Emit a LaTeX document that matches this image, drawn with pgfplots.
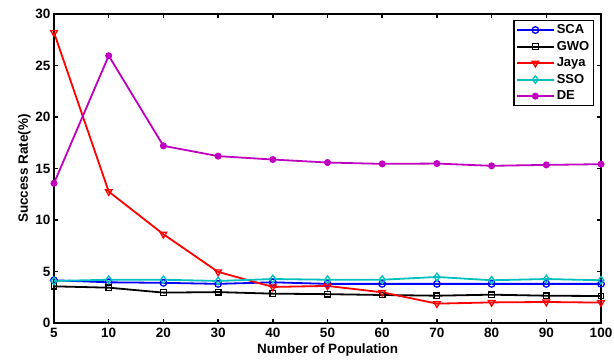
\documentclass[border=0pt]{standalone}
\usepackage{pgfplots}
\pgfplotsset{compat=1.18}
\usepackage{fontspec}
\setmainfont{Liberation Sans}
\definecolor{mcyan}{rgb}{0,0.75,0.75}
\definecolor{mmag}{rgb}{0.75,0,0.75}
\begin{document}
\begin{tikzpicture}
\begin{axis}[
  name=ax,
  scale only axis,
  width=547pt, height=309pt,
  xmin=0, xmax=10, ymin=0, ymax=30,
  xtick={0,...,10},
  xticklabels={5,10,20,30,40,50,60,70,80,90,100},
  ytick={0,5,...,30},
  tick align=inside,
  major tick length=4pt,
  axis line style={line width=1.5pt},
  tick style={line width=1.5pt, black},
  font=\fontsize{13.5pt}{15pt}\selectfont\bfseries,
  /pgf/number format/assume math mode=true,
  xticklabel style={yshift=-2pt},
  xlabel={Number of Population},
  ylabel={Success Rate(\%)},
  xlabel style={yshift=1pt},
  ylabel style={yshift=-2pt},
  legend style={at={(1,1)}, anchor=north east, xshift=-7pt, yshift=-6pt,
    draw=black, line width=1.5pt, font=\fontsize{13pt}{14pt}\selectfont\bfseries,
    row sep=2pt, inner sep=2pt},
  legend cell align=left,
  legend image code/.code={
    \draw[mark repeat=2,mark phase=2] plot coordinates {(0cm,0cm) (0.65cm,0cm) (1.3cm,0cm)};},
  every axis plot/.append style={line width=1.8pt, mark size=3pt},
]
\addplot[blue, mark=o, mark options={line width=1.3pt}, mark size=3.3pt] coordinates {
(0,4.15)(1,3.95)(2,3.9)(3,3.8)(4,3.95)(5,3.8)(6,3.8)(7,3.8)(8,3.8)(9,3.8)(10,3.8)};
\addlegendentry{SCA}
\addplot[black, mark=square, mark options={line width=1.3pt}, mark size=2.8pt] coordinates {
(0,3.56)(1,3.43)(2,2.95)(3,3.0)(4,2.85)(5,2.8)(6,2.72)(7,2.65)(8,2.75)(9,2.65)(10,2.62)};
\addlegendentry{GWO}
\addplot[red, mark=triangle, mark options={rotate=180, line width=1.3pt}, mark size=3.8pt] coordinates {
(0,28.2)(1,12.76)(2,8.62)(3,4.96)(4,3.5)(5,3.6)(6,2.98)(7,1.88)(8,2.0)(9,2.04)(10,1.98)};
\addlegendentry{Jaya}
\addplot[mcyan, mark=diamond, mark options={line width=1.3pt}, mark size=3.8pt] coordinates {
(0,4.08)(1,4.2)(2,4.2)(3,4.08)(4,4.27)(5,4.2)(6,4.2)(7,4.47)(8,4.15)(9,4.27)(10,4.15)};
\addlegendentry{SSO}
\addplot[mmag, mark=*, mark options={line width=1pt, fill=mmag}, mark size=3pt] coordinates {
(0,13.57)(1,25.95)(2,17.2)(3,16.2)(4,15.87)(5,15.58)(6,15.45)(7,15.48)(8,15.26)(9,15.35)(10,15.42)};
\addlegendentry{DE}
\end{axis}
\pgfresetboundingbox
\path[use as bounding box] ([xshift=-54pt,yshift=-38pt]ax.south west) rectangle ([xshift=13pt,yshift=14pt]ax.north east);
\end{tikzpicture}
\end{document}
